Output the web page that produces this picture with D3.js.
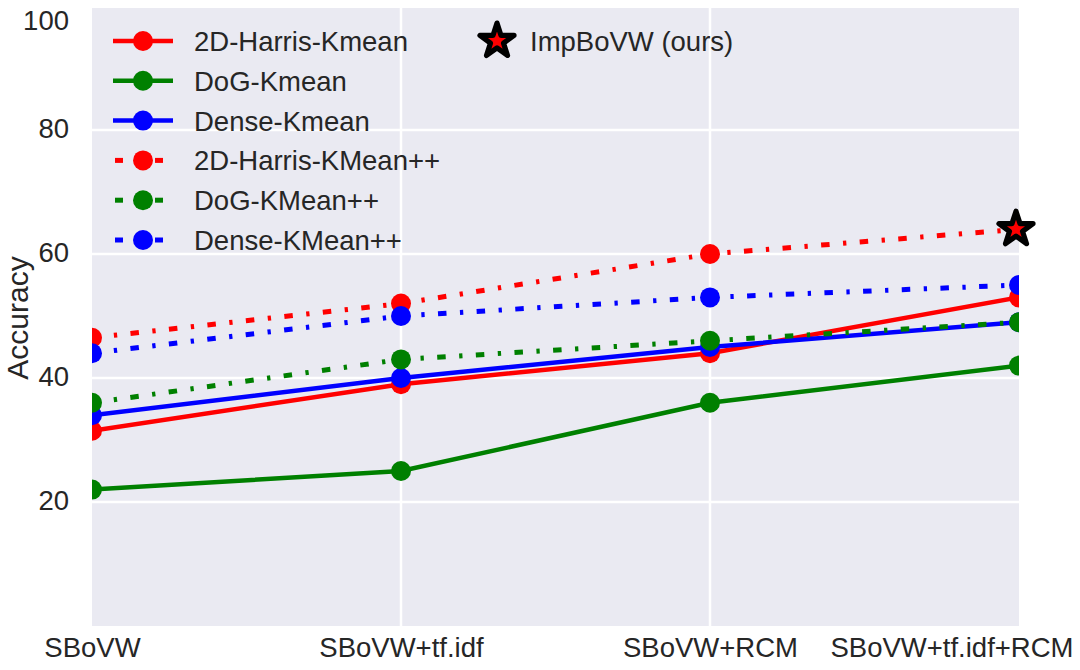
<!DOCTYPE html>
<html>
<head>
<meta charset="utf-8">
<script src="https://cdn.jsdelivr.net/npm/d3@7"></script>
<style>
  html, body { margin: 0; padding: 0; background: #fff; }
  svg { display: block; }
  text { font-family: "Liberation Sans", Arial, sans-serif; fill: #262626; }
</style>
</head>
<body>
<svg id="chart" width="1080" height="670"></svg>
<script>
// ---- data ----
const categories = ["SBoVW", "SBoVW+tf.idf", "SBoVW+RCM", "SBoVW+tf.idf+RCM"];
const harrisKmean   = [31.5, 39, 44, 53];
const dogKmean      = [22, 25, 36, 42];
const denseKmean    = [34, 40, 45, 49];
const harrisKmeanPP = [46.5, 52, 60, 64];
const dogKmeanPP    = [36, 43, 46, 49];
const denseKmeanPP  = [44, 50, 53, 55];
const seriesNames = ["2D-Harris-Kmean", "DoG-Kmean", "Dense-Kmean",
                     "2D-Harris-KMean++", "DoG-KMean++", "Dense-KMean++"];
const yTicks = [20, 40, 60, 80, 100];
const oursLabel = "ImpBoVW (ours)";
const oursIndex = 3; // ImpBoVW point = last point of 2D-Harris-KMean++

// ---- layout ----
const svg = d3.select("#chart");
const pL = 92, pR = 1019, pT = 8, pB = 626;
const x = d3.scalePoint().domain(categories).range([pL, pR]);
const y = d3.scaleLinear().domain([0, 100]).range([pB, 6]);

const DD = "8.5,13.5,3.3,13.4";
const series = [
  { name: seriesNames[0], values: harrisKmean,   color: "#ff0000", dash: null },
  { name: seriesNames[1], values: dogKmean,      color: "#008000", dash: null },
  { name: seriesNames[2], values: denseKmean,    color: "#0000ff", dash: null },
  { name: seriesNames[3], values: harrisKmeanPP, color: "#ff0000", dash: DD },
  { name: seriesNames[4], values: dogKmeanPP,    color: "#008000", dash: DD },
  { name: seriesNames[5], values: denseKmeanPP,  color: "#0000ff", dash: DD }
];

svg.append("defs").append("clipPath").attr("id", "plotclip")
  .append("rect").attr("x", pL).attr("y", pT)
  .attr("width", pR - pL).attr("height", pB - pT);

// background
svg.append("rect").attr("x", pL).attr("y", pT)
  .attr("width", pR - pL).attr("height", pB - pT)
  .attr("fill", "#eaeaf2");

// gridlines
const grid = svg.append("g").attr("clip-path", "url(#plotclip)");
grid.selectAll("line.h").data(yTicks.filter(t => t < 100)).join("line")
  .attr("x1", pL).attr("x2", pR)
  .attr("y1", d => y(d)).attr("y2", d => y(d))
  .attr("stroke", "#fff").attr("stroke-width", 2.5);
grid.selectAll("line.v").data(categories.slice(1, -1)).join("line")
  .attr("x1", d => x(d)).attr("x2", d => x(d))
  .attr("y1", pT).attr("y2", pB)
  .attr("stroke", "#fff").attr("stroke-width", 2.5);

// series
const plot = svg.append("g").attr("clip-path", "url(#plotclip)");
const line = d3.line().x((d, i) => x(categories[i])).y(d => y(d));
series.forEach(s => {
  const g = plot.append("g");
  g.append("path").attr("d", line(s.values))
    .attr("fill", "none").attr("stroke", s.color)
    .attr("stroke-width", s.dash ? 5 : 4.5)
    .attr("stroke-dasharray", s.dash)
    .attr("stroke-linecap", "butt");
  g.selectAll("circle").data(s.values).join("circle")
    .attr("cx", (d, i) => x(categories[i])).attr("cy", d => y(d))
    .attr("r", 10).attr("fill", s.color);
});

// star marker (ours)
const star = d3.symbol().type(d3.symbolStar).size(360);
svg.append("path").attr("d", star())
  .attr("transform", `translate(${x(categories[oursIndex]) - 3},${y(harrisKmeanPP[oursIndex])})`)
  .attr("fill", "#ff0000").attr("stroke", "#000").attr("stroke-width", 5.2)
  .attr("stroke-linejoin", "round");

// axes
const fs = "27.5px";
const yAxis = svg.append("g").attr("transform", `translate(${pL},0)`)
  .call(d3.axisLeft(y).tickValues(yTicks).tickSize(0).tickPadding(23));
yAxis.select(".domain").remove();
yAxis.selectAll("text").style("font-size", fs).attr("font-family", null)
  .attr("dy", d => d === 100 ? "0.87em" : "0.27em");

const xAxis = svg.append("g").attr("transform", `translate(0,${pB})`)
  .call(d3.axisBottom(x).tickSize(0).tickPadding(11));
xAxis.select(".domain").remove();
xAxis.selectAll("text").style("font-size", fs).attr("font-family", null);
xAxis.selectAll("text").filter(d => d === categories[categories.length - 1])
  .attr("text-anchor", "end").attr("x", 54);

// y label
svg.append("text").attr("transform", "translate(28,318) rotate(-90)")
  .attr("text-anchor", "middle").style("font-size", "30px").text("Accuracy");

// legend
const legend = svg.append("g");
series.forEach((s, i) => {
  const ly = 41 + i * 39.8;
  const g = legend.append("g");
  if (!s.dash) {
    g.append("line").attr("x1", 113).attr("x2", 173).attr("y1", ly).attr("y2", ly)
      .attr("stroke", s.color).attr("stroke-width", 4.5);
  } else {
    g.append("rect").attr("x", 115).attr("y", ly - 2.5).attr("width", 8).attr("height", 5).attr("fill", s.color);
    g.append("rect").attr("x", 155).attr("y", ly - 2.5).attr("width", 8).attr("height", 5).attr("fill", s.color);
  }
  g.append("circle").attr("cx", 143).attr("cy", ly).attr("r", 10).attr("fill", s.color);
  g.append("text").attr("x", 194).attr("y", ly).attr("dy", "0.36em")
    .style("font-size", fs).text(s.name);
});
legend.append("path").attr("d", star())
  .attr("transform", "translate(497,41)")
  .attr("fill", "#ff0000").attr("stroke", "#000").attr("stroke-width", 5.2)
  .attr("stroke-linejoin", "round");
legend.append("text").attr("x", 530).attr("y", 41).attr("dy", "0.36em")
  .style("font-size", fs).text(oursLabel);
</script>
</body>
</html>
